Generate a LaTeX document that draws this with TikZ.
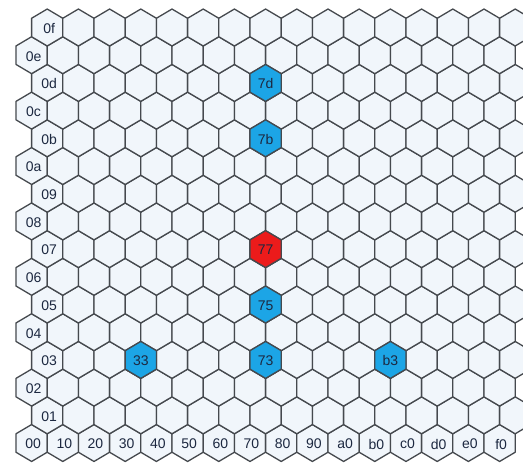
\documentclass[tikz,border=0pt]{standalone}
\usepackage{fontspec}
\setmainfont{Liberation Sans}
\definecolor{hexfill}{HTML}{F1F6FB}
\definecolor{hexline}{HTML}{45494E}
\definecolor{hexblue}{HTML}{1CA5E6}
\definecolor{hexred}{HTML}{EC1B1B}
\definecolor{labtext}{HTML}{1C2840}
\tikzset{
  hexcell/.style={draw=hexline, fill=hexfill, line width=1.3pt, line join=round},
  bluecell/.style={hexcell, fill=hexblue},
  redcell/.style={hexcell, fill=hexred},
  hexlabel/.style={text=labtext, font=\fontsize{14}{15}\selectfont, inner sep=0pt, anchor=center},
}
\newcommand\hexpath[2]{%
  (#1,#2) ++(0,-18.47) -- ++(15.6,9.235) -- ++(0,18.47) -- ++(-15.6,9.235) -- ++(-15.6,-9.235) -- ++(0,-18.47) -- cycle}
\begin{document}
\begin{tikzpicture}[x=1pt,y=-1pt]
\useasboundingbox (0,0) rectangle (523,464);
\fill[white] (0,0) rectangle (523,464);
\begin{scope}
\clip (0,0) rectangle (523,464);
\foreach \r in {0,...,15}{
  \foreach \c in {0,...,15}{
    \pgfmathsetmacro{\cx}{31.6+31.2*\c+15.6*mod(\r,2)}
    \pgfmathsetmacro{\cy}{443-27.7*\r}
    \path[hexcell] \hexpath{\cx}{\cy};
  }
}
% highlighted cells: column, row, style
\foreach \c/\r/\s in {7/7/redcell,7/5/bluecell,7/3/bluecell,3/3/bluecell,11/3/bluecell,7/11/bluecell,7/13/bluecell}{
  \pgfmathsetmacro{\cx}{31.6+31.2*\c+15.6*mod(\r,2)}
  \pgfmathsetmacro{\cy}{443-27.7*\r}
  \path[\s] \hexpath{\cx}{\cy};
}
\end{scope}
% bottom row labels
\foreach \c/\t in {0/00,1/10,2/20,3/30,4/40,5/50,6/60,7/70,8/80,9/90,10/a0,11/b0,12/c0,13/d0,14/e0,15/f0}{
  \pgfmathsetmacro{\cx}{31.6+31.2*\c+1.5}
  \node[hexlabel] (lx\c) at (\cx,444) {\t};
}
% left column labels
\foreach \r/\t in {1/01,2/02,3/03,4/04,5/05,6/06,7/07,8/08,9/09,10/0a,11/0b,12/0c,13/0d,14/0e,15/0f}{
  \pgfmathsetmacro{\cx}{31.6+15.6*mod(\r,2)+2}
  \pgfmathsetmacro{\cy}{443-27.7*\r+1}
  \node[hexlabel] (ly\r) at (\cx,\cy) {\t};
}
% highlighted labels
\foreach \c/\r/\t in {7/7/77,7/5/75,7/3/73,3/3/33,11/3/b3,7/11/7b,7/13/7d}{
  \pgfmathsetmacro{\cx}{31.6+31.2*\c+15.6*mod(\r,2)}
  \pgfmathsetmacro{\cy}{443-27.7*\r+1}
  \node[hexlabel] (h\t) at (\cx,\cy) {\t};
}
\end{tikzpicture}
\end{document}
